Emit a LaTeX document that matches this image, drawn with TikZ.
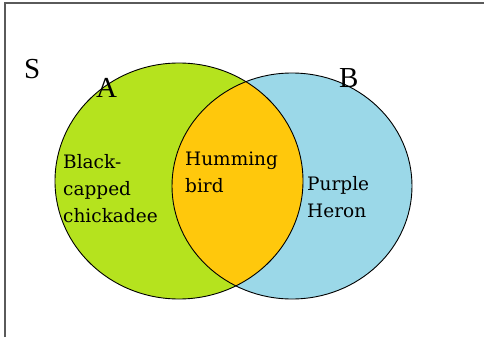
\documentclass[tikz,border=0pt]{standalone}
\usepackage{fontspec}
\setmainfont{DejaVu Serif}
\newfontfamily\labelfont{Liberation Serif}
\definecolor{setA}{RGB}{181,227,30}
\definecolor{setB}{RGB}{155,216,232}
\definecolor{setAB}{RGB}{255,200,12}
\definecolor{frameline}{RGB}{90,90,90}
\begin{document}
\begin{tikzpicture}[x=1pt,y=-1pt,
  setlabel/.style={anchor=base west,inner sep=0pt,font=\labelfont\fontsize{29}{29}\selectfont},
  member/.style={anchor=base west,inner sep=0pt,align=left,font=\fontsize{18.5}{27}\selectfont},
  outline/.style={draw=black,line width=0.9pt}]
  \useasboundingbox (0,0) rectangle (484,337);
  % universe frame (top and left edges)
  \draw[frameline,line width=1.4pt] (5,337) -- (5,3) -- (484,3);
  % the two sets
  \fill[setA] (179,181) ellipse [x radius=124,y radius=118];
  \fill[setB] (292,186) ellipse [x radius=120,y radius=113];
  \begin{scope}
    \clip (179,181) ellipse [x radius=124,y radius=118];
    \fill[setAB] (292,186) ellipse [x radius=120,y radius=113];
  \end{scope}
  \draw[outline] (179,181) ellipse [x radius=124,y radius=118];
  \draw[outline] (292,186) ellipse [x radius=120,y radius=113];
  % labels (anchored at the baseline of the last line)
  \node[setlabel] (S) at (24,78) {S};
  \node[setlabel] (A) at (96,97) {A};
  \node[setlabel] (B) at (339,87) {B};
  \node[member] (onlyA) at (63,222) {Black-\\capped\\chickadee};
  \node[member] (both) at (185,192) {Humming\\bird};
  \node[member] (onlyB) at (307,217) {Purple\\Heron};
\end{tikzpicture}
\end{document}
